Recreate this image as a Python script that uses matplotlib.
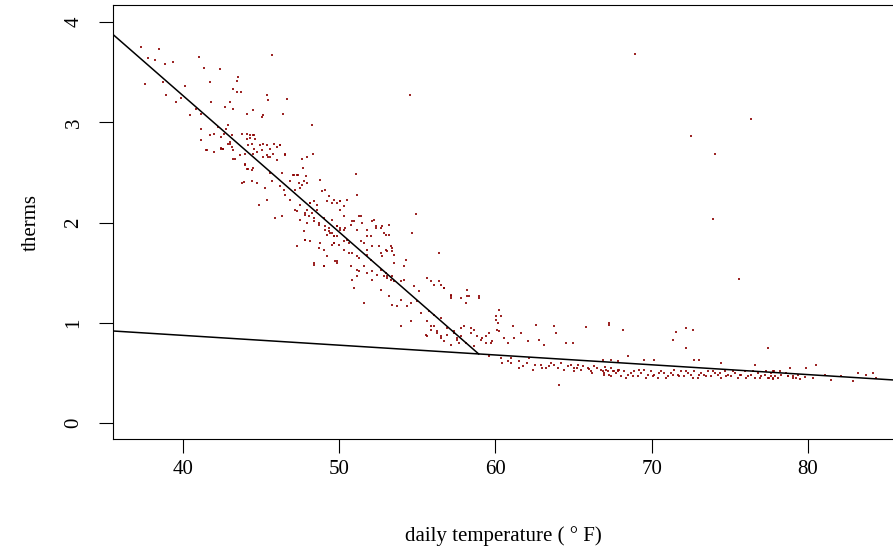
import matplotlib
matplotlib.use("Agg")
import matplotlib.pyplot as plt

# ---- data ----
temp_upper = [37.35,38.46,37.78,38.24,38.85,39.38,41.03,41.35,42.37,37.6,38.74,40.13,38.95,39.55,39.91,41.73,43.55,43.44,43.22,43.44,43.72,40.87,41.83,43.01,43.22,40.45,41.19,42.69,44.08,44.51,45.04,45.1,45.36,45.47,45.68,46.43,46.64,41.19,41.73,42.26,42.47,42.79,42.9,43.01,42.9,42.58,42.47,41.19,41.51,43.76,44.08,44.29,44.51,44.62,44.19,44.4,44.94,45.15,45.58,46.0,46.22,43.22,43.65,43.97,43.22,44.51,44.72,45.15,45.47,45.79,46.54,43.97,44.19,44.46,45.58,46.32,47.07,47.39,47.88,47.6,47.92,47.71,48.24,48.35]
therm_upper = [3.75,3.73,3.64,3.62,3.58,3.60,3.65,3.54,3.53,3.38,3.40,3.36,3.27,3.20,3.24,3.40,3.45,3.41,3.33,3.30,3.30,3.13,3.20,3.20,3.13,3.07,3.08,3.15,3.08,3.12,3.05,3.07,3.27,3.22,3.67,3.08,3.23,2.93,2.87,2.95,2.85,2.93,2.97,2.80,2.78,2.73,2.74,2.82,2.72,2.88,2.83,2.87,2.87,2.83,2.77,2.78,2.77,2.78,2.73,2.75,2.77,2.72,2.67,2.68,2.63,2.68,2.70,2.65,2.65,2.68,2.67,2.57,2.53,2.54,2.49,2.49,2.47,2.47,2.46,2.63,2.65,2.54,2.97,2.68]

temp_mid = [41.96,42.61,43.14,44.1,44.53,44.32,42.43,42.56,41.54,41.96,43.03,43.14,43.35,43.99,44.1,44.42,44.53,45.06,45.38,45.6,46.02,46.56,46.24,45.81,45.38,43.78,43.89,44.42,44.74,45.28,45.7,46.24,46.45,44.85,45.38,45.92,46.35,46.88,47.09,47.31,47.41,47.63,47.73,47.95,47.52,47.2,46.56,46.88,47.2,47.31,47.52,47.95,48.16,48.38,48.59,48.27,48.8,48.91,49.12,49.34,49.66,49.87,50.08,50.3,50.51,51.05,51.15,47.52,47.84,48.38,48.7,49.02,49.55,49.87,50.08,50.3,49.12,49.34,49.55,49.66,49.87,50.08,50.4,50.51,49.66,49.98,50.83,51.15,51.37,51.79,52.01,52.33,52.22,52.76,52.97,53.18,47.84,48.16,48.7,49.02,49.55,49.23,48.38,49.02,49.76,49.87,50.3,50.62,51.15,51.58,51.79,52.11,52.54,52.65,52.97,53.29,53.4,53.5,50.73,51.15,51.58,51.79,52.11,52.65,52.97,53.08,53.4,51.15,47.31]
therm_mid = [2.88,2.88,2.87,2.88,2.87,2.84,2.73,2.73,2.72,2.70,2.78,2.75,2.63,2.58,2.53,2.52,2.73,2.72,2.67,2.65,2.62,2.68,2.77,2.78,2.77,2.40,2.41,2.42,2.40,2.35,2.42,2.37,2.33,2.18,2.23,2.05,2.07,2.42,2.47,2.47,2.40,2.38,2.42,2.40,2.35,2.33,2.28,2.23,2.13,2.12,2.18,2.13,2.20,2.22,2.13,2.10,2.43,2.32,2.33,2.27,2.23,2.20,2.22,2.17,2.23,2.48,2.28,2.03,2.08,2.05,2.00,2.05,2.03,1.97,2.13,2.07,1.93,1.95,1.90,1.87,1.87,1.93,1.95,1.83,1.80,1.78,2.02,1.93,2.07,1.93,1.87,1.95,2.03,1.97,1.88,1.98,1.83,1.82,1.75,1.73,1.78,1.67,1.58,1.57,1.62,1.60,1.73,1.70,1.67,1.80,1.73,1.77,1.77,1.70,1.73,1.77,1.72,1.68,1.57,1.53,1.57,1.50,1.52,1.53,1.50,1.47,1.47,1.47,1.77]

temp_low = [48.16,48.59,49.23,49.55,50.08,47.84,48.05,47.95,48.37,48.7,47.73,47.84,49.12,49.34,49.44,49.66,49.23,49.87,50.08,50.3,50.73,50.94,51.26,51.47,54.89,54.68,48.8,49.66,50.3,50.62,51.37,51.79,52.11,52.33,52.65,52.86,53.18,48.37,49.02,49.87,50.83,51.26,51.79,52.01,52.76,53.08,53.4,53.5,50.83,50.94,51.58,51.26,52.11,52.44,52.86,53.08,53.29,53.5,53.93,54.14,54.25,54.14,54.78,55.1,55.64,55.85,56.39,56.49,56.71,57.14,57.78,58.2,58.95,52.65,53.18,53.4,53.72,53.93,54.36,54.57,55.0,55.21,55.75,56.07,56.49,53.93,54.57,55.64,55.85,56.28,56.49,56.92,57.35,57.56,57.78,58.1,58.42,58.63,59.06,59.38,59.7,60.02,60.13,60.23]
therm_low = [2.20,2.18,2.22,2.20,2.22,2.10,2.07,2.00,2.02,1.98,1.92,1.83,1.97,1.92,1.90,1.87,1.88,1.97,1.95,1.93,1.98,2.02,2.07,2.00,2.09,1.90,1.80,1.80,1.82,1.80,1.82,1.87,2.02,1.97,1.95,1.90,1.88,1.60,1.57,1.62,1.70,1.65,1.68,1.63,1.67,1.72,1.75,1.60,1.43,1.35,1.20,1.52,1.43,1.48,1.47,1.45,1.43,1.42,1.42,1.43,1.63,1.57,1.37,1.32,1.45,1.42,1.70,1.38,1.35,1.27,1.25,1.27,1.25,1.33,1.27,1.18,1.17,1.23,1.17,1.20,1.22,1.10,1.12,1.08,1.05,0.97,1.02,0.87,0.97,0.92,0.87,0.95,0.92,0.83,0.87,0.80,0.95,0.77,0.83,0.87,0.80,1.07,1.00,0.92]

temp_knee = [56.06,56.39,56.71,57.13,57.13,58.2,58.31,58.95,58.09,55.64,56.06,55.53,55.85,56.28,56.49,56.71,56.92,57.35,57.56,57.13,57.67,57.77,57.99,58.41,58.63,58.84,59.16,59.38,59.59,59.8,60.12,60.34,60.23,60.02,60.55,60.77,61.09,61.19,61.62,62.05,62.58,62.8,63.12,63.76,63.87,64.5,64.93,59.59,60.34,60.44,61.0,61.51,61.73,62.15,62.37,62.9,63.22,63.54,64.08,63.76,64.18,64.61,65.04,65.25,65.47,65.89,66.11,66.32,66.75,66.96,67.18,67.39,67.6,67.82,67.28,62.5,63.0,63.4,64.0,64.4,64.8,65.2,65.6,66.0,66.5,67.0,65.0,66.2,61.0,61.5,60.8,62.0]
therm_knee = [1.38,1.42,1.35,1.28,1.25,1.33,1.27,1.27,1.20,1.02,0.97,0.88,0.93,0.90,0.85,0.82,0.88,0.90,0.85,0.78,0.80,0.95,0.97,0.90,0.93,0.87,0.85,0.80,0.90,0.82,0.93,1.07,1.13,1.03,0.85,0.80,0.97,0.85,0.90,0.82,0.98,0.83,0.78,0.97,0.90,0.80,0.80,0.67,0.65,0.60,0.65,0.55,0.57,0.65,0.53,0.58,0.55,0.60,0.38,0.58,0.60,0.57,0.55,0.58,0.53,0.55,0.52,0.57,0.53,0.50,0.52,0.55,0.52,0.53,1.00,0.58,0.55,0.57,0.55,0.53,0.58,0.55,0.57,0.54,0.55,0.56,0.52,0.50,0.60,0.62,0.62,0.60]

temp_band = [67.28,68.14,71.56,72.2,71.34,72.2,77.43,78.82,66.86,67.39,67.82,68.46,69.53,70.17,72.73,73.05,74.44,76.58,77.75,
             66.86,67.07,67.28,67.5,67.71,67.93,68.03,68.25,68.46,68.67,68.89,69.1,69.31,69.53,69.74,69.96,70.17,70.38,70.6,70.81,71.02,71.24,71.45,71.67,71.88,72.09,72.31,72.52,72.73,72.95,73.16,73.37,73.59,73.8,74.02,74.23,74.44,74.66,74.87,75.08,75.3,75.51,75.73,75.94,76.15,76.37,76.58,76.79,77.01,77.22,77.44,77.65,77.86,78.29,78.72,79.04,79.36,
             66.96,67.39,67.82,68.35,68.78,69.21,69.63,70.06,70.49,70.92,71.34,71.77,72.2,72.63,73.05,73.48,73.91,74.34,74.76,75.19,75.62,76.05,76.47,76.9,77.33,77.76,78.18,78.61,
             77.85,77.64,77.53,77.75,78.07,78.71,79.03,79.24,79.46,79.78,80.31,81.06,81.49,82.13,82.88,83.2,83.73,84.16,84.37,80.53,79.88]
therm_band = [0.98,0.93,0.91,0.95,0.83,0.75,0.75,0.55,0.63,0.63,0.62,0.67,0.63,0.63,0.63,0.63,0.60,0.58,0.52,
              0.52,0.53,0.48,0.52,0.50,0.53,0.47,0.52,0.48,0.50,0.52,0.47,0.50,0.53,0.48,0.52,0.48,0.45,0.52,0.50,0.47,0.50,0.53,0.48,0.52,0.47,0.50,0.48,0.52,0.45,0.50,0.48,0.52,0.47,0.50,0.48,0.45,0.52,0.48,0.47,0.50,0.45,0.48,0.52,0.47,0.48,0.45,0.50,0.47,0.48,0.45,0.50,0.47,0.48,0.47,0.45,0.48,
              0.48,0.47,0.52,0.45,0.47,0.53,0.45,0.47,0.50,0.45,0.48,0.47,0.52,0.45,0.48,0.47,0.52,0.50,0.47,0.52,0.48,0.45,0.52,0.45,0.52,0.45,0.52,0.50,
              0.52,0.47,0.45,0.44,0.45,0.47,0.47,0.45,0.44,0.46,0.45,0.48,0.43,0.47,0.42,0.50,0.48,0.50,0.45,0.58,0.55]

temp_outlier = [54.53,68.94,72.53,74.07,73.94,76.37,75.6,72.65,65.8]
therm_outlier = [3.27,3.68,2.86,2.68,2.04,3.03,1.44,0.93,0.96]

# fitted piecewise lines (endpoints)
heat_line_x = [35.5, 58.93]
heat_line_y = [3.88, 0.69]
base_line_x = [35.5, 85.6]
base_line_y = [0.92, 0.43]

xticks = [40, 50, 60, 70, 80]
yticks = [0, 1, 2, 3, 4]

# ---- figure ----
plt.rcParams['font.family'] = ['Liberation Serif', 'DejaVu Serif']
fig = plt.figure(figsize=(8.93, 5.48), dpi=100)
ax = fig.add_axes([0.1262, 0.1984, 0.8755, 0.7925])

xs = temp_upper + temp_mid + temp_low + temp_knee + temp_band + temp_outlier
ys = therm_upper + therm_mid + therm_low + therm_knee + therm_band + therm_outlier
ax.scatter(xs, ys, s=1.6, marker='s', color='#8b0000', alpha=0.85, linewidths=0, zorder=2)

ax.plot(heat_line_x, heat_line_y, color='black', lw=1.1, zorder=3)
ax.plot(base_line_x, base_line_y, color='black', lw=1.1, zorder=3)

ax.set_xlim(35.51, 85.53)
ax.set_ylim(-0.16, 4.17)
ax.set_xticks(xticks)
ax.set_yticks(yticks)
ax.set_xticklabels([str(t) for t in xticks])
ax.set_yticklabels([str(t) for t in yticks], rotation=90, va='center')
ax.tick_params(axis='both', direction='out', length=10, width=0.8, labelsize=15)
ax.tick_params(axis='x', pad=5)
ax.tick_params(axis='y', pad=11)
for s in ax.spines.values():
    s.set_linewidth(0.8)

ax.set_xlabel('daily temperature ( ° F)', fontsize=15, labelpad=34)
ax.set_ylabel('therms', fontsize=15, labelpad=17)

fig.savefig('out.png', dpi=100)
